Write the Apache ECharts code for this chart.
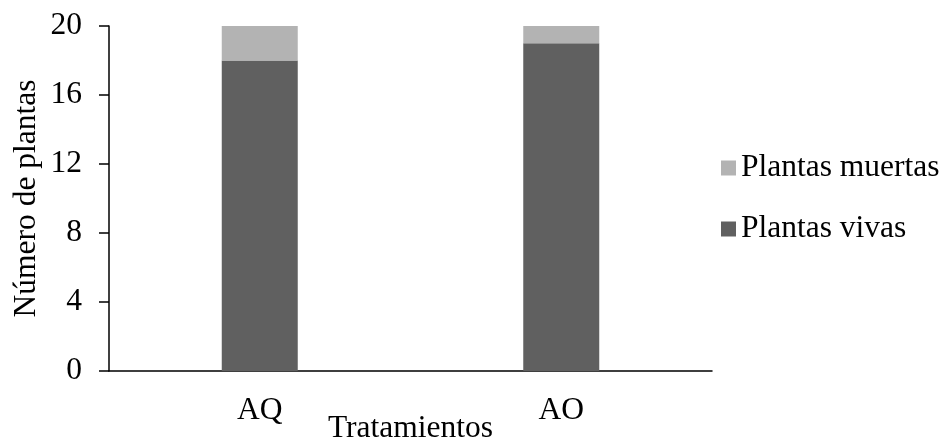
<!DOCTYPE html>
<html>
<head>
<meta charset="utf-8">
<script src="https://cdn.jsdelivr.net/npm/echarts@6/dist/echarts.min.js"></script>
<style>
  html, body { margin: 0; padding: 0; background: #fff; }
  #chart { width: 941px; height: 438px; }
</style>
</head>
<body>
<div id="chart"></div>
<script>
// Treatments and plant counts per treatment
const categories = ['AQ', 'AO'];
const plantasVivas = [18, 19];
const plantasMuertas = [2, 1];
const yTicks = { min: 0, max: 20, interval: 4 };

const FONT = '"Liberation Serif", "Times New Roman", serif';
const FS = 31.5;
const chart = echarts.init(document.getElementById('chart'), null, { renderer: 'canvas' });

chart.setOption({
  backgroundColor: '#ffffff',
  animation: false,
  textStyle: { fontFamily: FONT, color: '#000' },
  grid: { left: 109, right: 229, top: 26, bottom: 67, containLabel: false, outerBoundsMode: 'none' },
  legend: {
    orient: 'vertical',
    left: 716,
    top: 147,
    itemWidth: 15,
    itemHeight: 15,
    itemGap: 29,
    icon: 'rect',
    data: ['Plantas muertas', 'Plantas vivas'],
    textStyle: { fontFamily: FONT, fontSize: FS, color: '#000' }
  },
  xAxis: {
    type: 'category',
    data: categories,
    name: 'Tratamientos',
    nameLocation: 'middle',
    nameGap: 42,
    nameMoveOverlap: false,
    nameTextStyle: { fontFamily: FONT, fontSize: FS, color: '#000' },
    axisLine: { lineStyle: { color: '#000', width: 1.5 } },
    axisTick: { show: false },
    axisLabel: { fontFamily: FONT, fontSize: FS, color: '#000', margin: 24 },
    splitLine: { show: false }
  },
  yAxis: {
    type: 'value',
    min: yTicks.min,
    max: yTicks.max,
    interval: yTicks.interval,
    name: 'Número de plantas',
    nameLocation: 'middle',
    nameGap: 66,
    nameMoveOverlap: false,
    nameTextStyle: { fontFamily: FONT, fontSize: FS, color: '#000' },
    axisLine: { show: true, lineStyle: { color: '#000', width: 1.5 } },
    axisTick: { show: true, length: 10, lineStyle: { color: '#000', width: 1.5 } },
    axisLabel: { fontFamily: FONT, fontSize: FS, color: '#000', margin: 27 },
    splitLine: { show: false }
  },
  series: [
    {
      name: 'Plantas vivas',
      type: 'bar',
      stack: 'total',
      barWidth: 76,
      itemStyle: { color: '#606060' },
      data: plantasVivas
    },
    {
      name: 'Plantas muertas',
      type: 'bar',
      stack: 'total',
      barWidth: 76,
      itemStyle: { color: '#b3b3b3' },
      data: plantasMuertas
    }
  ]
});
</script>
</body>
</html>
